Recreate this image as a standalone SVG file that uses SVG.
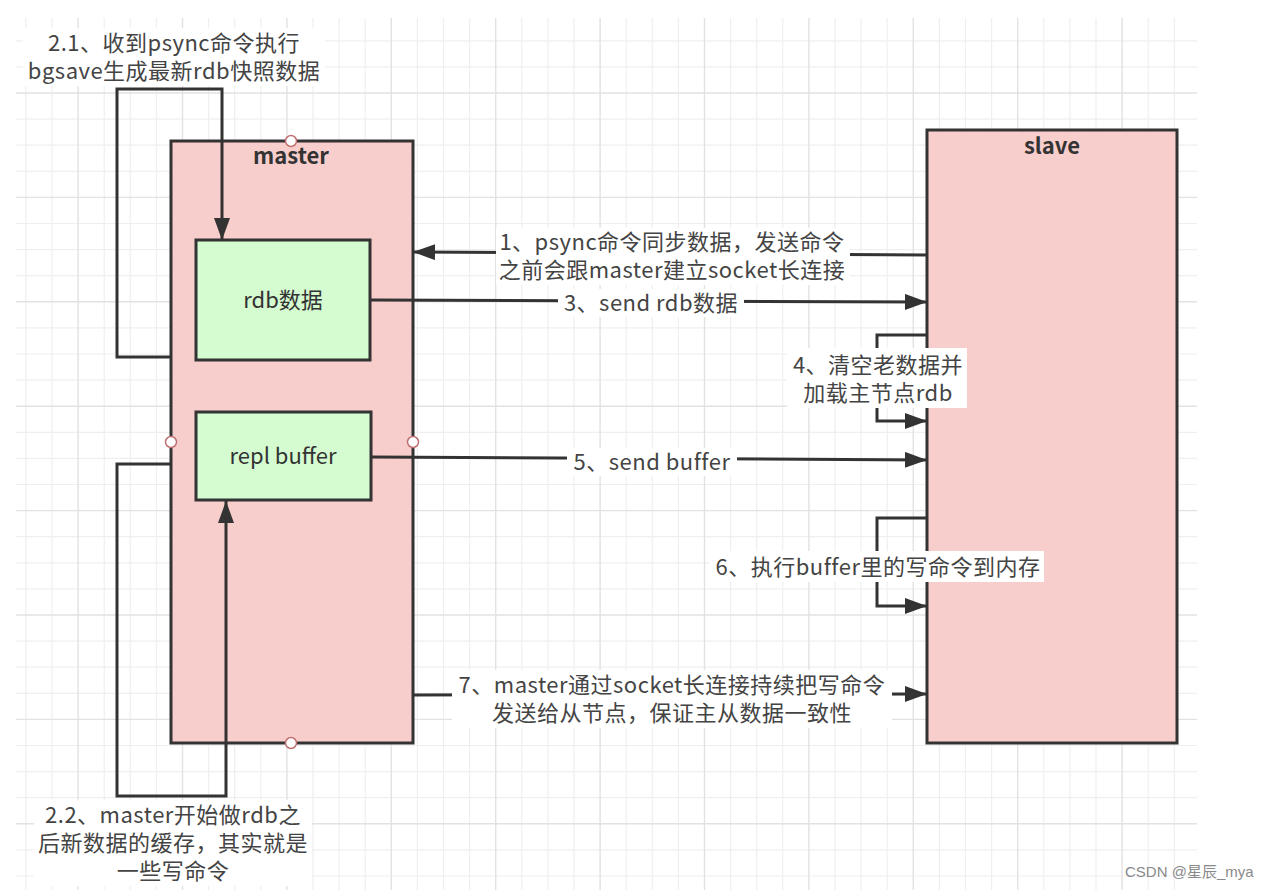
<svg xmlns="http://www.w3.org/2000/svg" width="1268" height="890" viewBox="0 0 1268 890">
<defs>
<style>
.minor{stroke:#efefef;stroke-width:1.2}
.major{stroke:#e2e2e2;stroke-width:1.4}
.box{fill:#f8cecc;stroke:#333;stroke-width:3}
.inner{fill:#d5fbd0;stroke:#333;stroke-width:3}
.pt{fill:#fff;stroke:#c07070;stroke-width:1.5}
.edge{fill:none;stroke:#333;stroke-width:3}
.lbl{font-family:"Noto Sans CJK SC","Noto Sans",sans-serif;font-size:22px;letter-spacing:0.5px;fill:#444;text-anchor:middle}
.title{font-family:"Noto Sans CJK SC","Noto Sans",sans-serif;font-size:22px;font-weight:bold;fill:#333;text-anchor:middle}
.nlbl{font-family:"Noto Sans CJK SC","Noto Sans",sans-serif;font-size:22px;fill:#333;text-anchor:middle}
.bg{fill:#fff}
.wm{font-family:"Liberation Sans","Noto Sans CJK SC",sans-serif;font-size:15px;fill:#8a8a8a}
</style>
<marker id="arr" markerUnits="userSpaceOnUse" markerWidth="24" markerHeight="18" refX="22" refY="8" orient="auto">
<path d="M0,0 L22,8 L0,16 Z" fill="#333"/>
</marker>
</defs>
<rect width="1268" height="890" fill="#fff"/>
<g id="grid">
<g class="minor">
<path d="M16,40.8H1197M16,66.9H1197M16,119.1H1197M16,145.2H1197M16,171.3H1197M16,223.5H1197M16,249.6H1197M16,275.7H1197M16,327.9H1197M16,354H1197M16,380.1H1197M16,432.3H1197M16,458.4H1197M16,484.5H1197M16,536.7H1197M16,562.8H1197M16,588.9H1197M16,641.1H1197M16,667.2H1197M16,693.3H1197M16,745.5H1197M16,771.6H1197M16,797.7H1197M16,849.9H1197M16,876H1197"/>
<path d="M25.9,18V890M52,18V890M104.2,18V890M130.3,18V890M156.4,18V890M208.6,18V890M234.7,18V890M260.8,18V890M313,18V890M339.1,18V890M365.2,18V890M417.4,18V890M443.5,18V890M469.6,18V890M521.8,18V890M547.9,18V890M574,18V890M626.2,18V890M652.3,18V890M678.4,18V890M730.6,18V890M756.7,18V890M782.8,18V890M835,18V890M861.1,18V890M887.2,18V890M939.4,18V890M965.5,18V890M991.6,18V890M1043.8,18V890M1069.9,18V890M1096,18V890M1148.2,18V890M1174.3,18V890"/>
</g>
<g class="major">
<path d="M16,93H1197M16,197.4H1197M16,301.8H1197M16,406.2H1197M16,510.6H1197M16,615H1197M16,719.4H1197M16,823.8H1197"/>
<path d="M78.1,18V890M182.5,18V890M286.9,18V890M391.3,18V890M495.7,18V890M600.1,18V890M704.5,18V890M808.9,18V890M913.3,18V890M1017.7,18V890M1122.1,18V890"/>
</g>
</g>
<g id="node-master">
<rect class="box" x="171" y="141" width="242" height="602"/>
<text class="title" x="291" y="164">master</text>
</g>
<g id="node-rdb">
<rect class="inner" x="196" y="240" width="174" height="120"/>
<text class="nlbl" x="283" y="308">rdb数据</text>
</g>
<g id="node-repl">
<rect class="inner" x="196" y="412" width="175" height="88"/>
<text class="nlbl" x="283" y="464">repl buffer</text>
</g>
<g id="node-slave">
<rect class="box" x="927" y="130" width="250" height="613"/>
<text class="title" x="1052" y="154">slave</text>
</g>
<g id="master-points">
<circle class="pt" cx="291" cy="141" r="5.5"/>
<circle class="pt" cx="171" cy="442" r="5.5"/>
<circle class="pt" cx="413" cy="442" r="5.5"/>
<circle class="pt" cx="291" cy="743" r="5.5"/>
</g>
<g id="connectors">
<path class="edge" d="M927,255 L413,252" marker-end="url(#arr)"/>
<path class="edge" d="M171,357 H117 V89 H222 V240" marker-end="url(#arr)"/>
<path class="edge" d="M171,464 H117 V796 H226 V501" marker-end="url(#arr)"/>
<path class="edge" d="M370,300 L927,302" marker-end="url(#arr)"/>
<path class="edge" d="M927,335 H877 V421 H927" marker-end="url(#arr)"/>
<path class="edge" d="M371,457 L927,460" marker-end="url(#arr)"/>
<path class="edge" d="M927,518 H877 V606 H927" marker-end="url(#arr)"/>
<path class="edge" d="M413,695 L927,694" marker-end="url(#arr)"/>
</g>
<g id="edge-labels">
<g id="label-2-1">
<rect class="bg" x="23" y="28" width="302" height="58"/>
<text class="lbl" x="174" y="51"><tspan x="174">2.1、收到psync命令执行</tspan><tspan x="174" dy="28">bgsave生成最新rdb快照数据</tspan></text>
</g>
<g id="label-1">
<rect class="bg" x="496" y="228" width="354" height="57"/>
<text class="lbl" x="672" y="250"><tspan x="672">1、psync命令同步数据，发送命令</tspan><tspan x="672" dy="28">之前会跟master建立socket长连接</tspan></text>
</g>
<g id="label-3">
<rect class="bg" x="558" y="289" width="186" height="28"/>
<text class="lbl" x="651" y="311">3、send rdb数据</text>
</g>
<g id="label-4">
<rect class="bg" x="787" y="348" width="180" height="60"/>
<text class="lbl" x="878" y="373"><tspan x="878">4、清空老数据并</tspan><tspan x="878" dy="28">加载主节点rdb</tspan></text>
</g>
<g id="label-5">
<rect class="bg" x="567" y="448" width="170" height="28"/>
<text class="lbl" x="652" y="470">5、send buffer</text>
</g>
<g id="label-6">
<rect class="bg" x="709" y="551" width="335" height="31"/>
<text class="lbl" x="878" y="575">6、执行buffer里的写命令到内存</text>
</g>
<g id="label-7">
<rect class="bg" x="452" y="670" width="440" height="58"/>
<text class="lbl" x="672" y="693"><tspan x="672">7、master通过socket长连接持续把写命令</tspan><tspan x="672" dy="28">发送给从节点，保证主从数据一致性</tspan></text>
</g>
<g id="label-2-2">
<rect class="bg" x="34" y="800" width="278" height="86"/>
<text class="lbl" x="173" y="823"><tspan x="173">2.2、master开始做rdb之</tspan><tspan x="173" dy="28">后新数据的缓存，其实就是</tspan><tspan x="173" dy="28">一些写命令</tspan></text>
</g>
</g>
<text class="wm" x="1125" y="877">CSDN @星辰_mya</text>
</svg>
